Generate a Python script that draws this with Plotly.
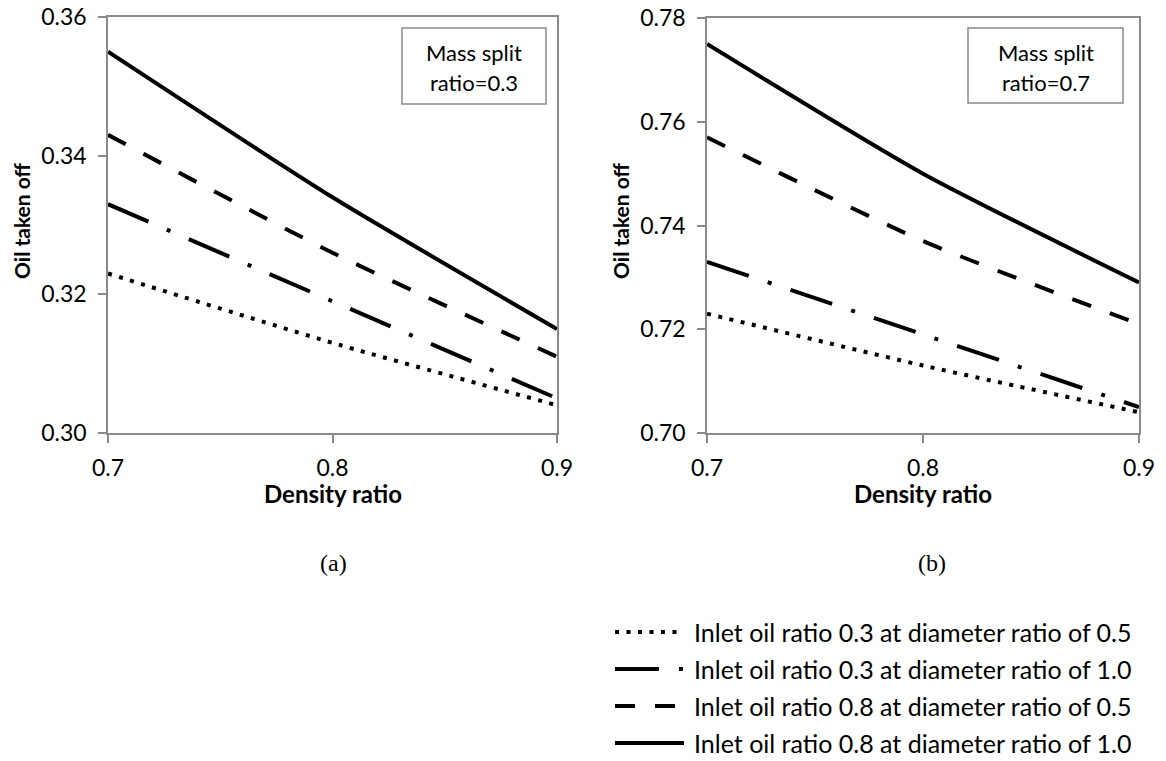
import plotly.graph_objects as go

# ---- data ----
density_ratio = [0.7, 0.8, 0.9]

series_names = [
    "Inlet oil ratio 0.3 at diameter ratio of 0.5",
    "Inlet oil ratio 0.3 at diameter ratio of 1.0",
    "Inlet oil ratio 0.8 at diameter ratio of 0.5",
    "Inlet oil ratio 0.8 at diameter ratio of 1.0",
]

# (a) mass split ratio = 0.3
split03_oil03_d05 = [0.323, 0.313, 0.304]
split03_oil03_d10 = [0.333, 0.319, 0.305]
split03_oil08_d05 = [0.343, 0.326, 0.311]
split03_oil08_d10 = [0.355, 0.334, 0.315]

# (b) mass split ratio = 0.7
split07_oil03_d05 = [0.723, 0.713, 0.704]
split07_oil03_d10 = [0.733, 0.719, 0.705]
split07_oil08_d05 = [0.757, 0.737, 0.721]
split07_oil08_d10 = [0.775, 0.750, 0.729]

x_ticks = [0.7, 0.8, 0.9]
y_ticks_a = [0.30, 0.32, 0.34, 0.36]
y_ticks_b = [0.70, 0.72, 0.74, 0.76, 0.78]

# ---- styling ----
W, H = 1166, 761
FONT = "Lato"
AXIS_GREY = "#8a8a8a"
LINE_W = 4
dash_styles = ["4px,7.5px", "44px,20px,4px,20px", "20px,20px", "solid"]


def px_x(p):
    return p / W


def px_y(p):
    return 1 - p / H


fig = go.Figure()

panel_a = [split03_oil03_d05, split03_oil03_d10, split03_oil08_d05, split03_oil08_d10]
panel_b = [split07_oil03_d05, split07_oil03_d10, split07_oil08_d05, split07_oil08_d10]

for values, dash, name in zip(panel_a, dash_styles, series_names):
    fig.add_trace(go.Scatter(
        x=density_ratio, y=values, mode="lines", name=name,
        line=dict(color="black", width=LINE_W, dash=dash, shape="spline", smoothing=0.6),
        xaxis="x", yaxis="y", showlegend=False,
    ))

for values, dash, name in zip(panel_b, dash_styles, series_names):
    fig.add_trace(go.Scatter(
        x=density_ratio, y=values, mode="lines", name=name,
        line=dict(color="black", width=LINE_W, dash=dash, shape="spline", smoothing=0.6),
        xaxis="x2", yaxis="y2", showlegend=False,
    ))

axis_common = dict(
    showline=True, linecolor=AXIS_GREY, linewidth=1.5, mirror=True,
    ticks="outside", ticklen=8, tickwidth=1.5, tickcolor=AXIS_GREY,
    showgrid=False, zeroline=False, automargin=False,
    tickfont=dict(family=FONT, size=23, color="black"),
)

fig.update_layout(
    template="none",
    width=W, height=H, autosize=False,
    margin=dict(l=0, r=0, t=0, b=0, pad=0),
    paper_bgcolor="white", plot_bgcolor="white",
    showlegend=False,
    xaxis=dict(domain=[px_x(108), px_x(557)], range=[0.7, 0.9], tickvals=x_ticks,
               tickformat=".1f", anchor="y", ticklabelstandoff=6, **axis_common),
    yaxis=dict(domain=[px_y(433), px_y(17)], range=[0.30, 0.36], tickvals=y_ticks_a,
               tickformat=".2f", anchor="x", ticklabelstandoff=7, **axis_common),
    xaxis2=dict(domain=[px_x(707), px_x(1139)], range=[0.7, 0.9], tickvals=x_ticks,
                tickformat=".1f", anchor="y2", ticklabelstandoff=6, **axis_common),
    yaxis2=dict(domain=[px_y(433), px_y(18)], range=[0.70, 0.78], tickvals=y_ticks_b,
                tickformat=".2f", anchor="x2", ticklabelstandoff=7, **axis_common),
)

annotations = []
shapes = []


def text(x, y, s, size, bold=False, family=FONT, angle=0, xanchor="center"):
    annotations.append(dict(
        x=px_x(x), y=px_y(y), xref="paper", yref="paper", text=f"<b>{s}</b>" if bold else s,
        showarrow=False, xanchor=xanchor, yanchor="middle", textangle=angle,
        font=dict(family=family, size=size, color="black"),
    ))


# axis titles
for cx, ax_x in [(333, 21), (923, 620)]:
    text(cx, 493, "Density ratio", 24, bold=True)
    text(ax_x, 221, "Oil taken off", 21, bold=True, angle=-90)

# panel labels
text(333, 563, "(a)", 24, family="Liberation Serif")
text(932, 563, "(b)", 24, family="Liberation Serif")

# mass split boxes
for (x0, x1, y0, y1), label in [((402, 546, 28, 104), "0.3"), ((968, 1123, 28, 103), "0.7")]:
    shapes.append(dict(type="rect", xref="paper", yref="paper",
                       x0=px_x(x0), x1=px_x(x1), y0=px_y(y1), y1=px_y(y0),
                       line=dict(color=AXIS_GREY, width=1.5), fillcolor="white", layer="above"))
    cx = (x0 + x1) / 2
    text(cx, 53, "Mass split", 22)
    text(cx, 82, f"ratio={label}", 22)

# legend
legend_rows = [632, 669, 706, 743]
for row_y, dash, name in zip(legend_rows, dash_styles, series_names):
    shapes.append(dict(type="line", xref="paper", yref="paper",
                       x0=px_x(615), x1=px_x(684), y0=px_y(row_y), y1=px_y(row_y),
                       line=dict(color="black", width=LINE_W, dash=dash)))
    text(692, row_y, name, 25, xanchor="left")

fig.update_layout(annotations=annotations, shapes=shapes)

fig.write_html("out.html")
